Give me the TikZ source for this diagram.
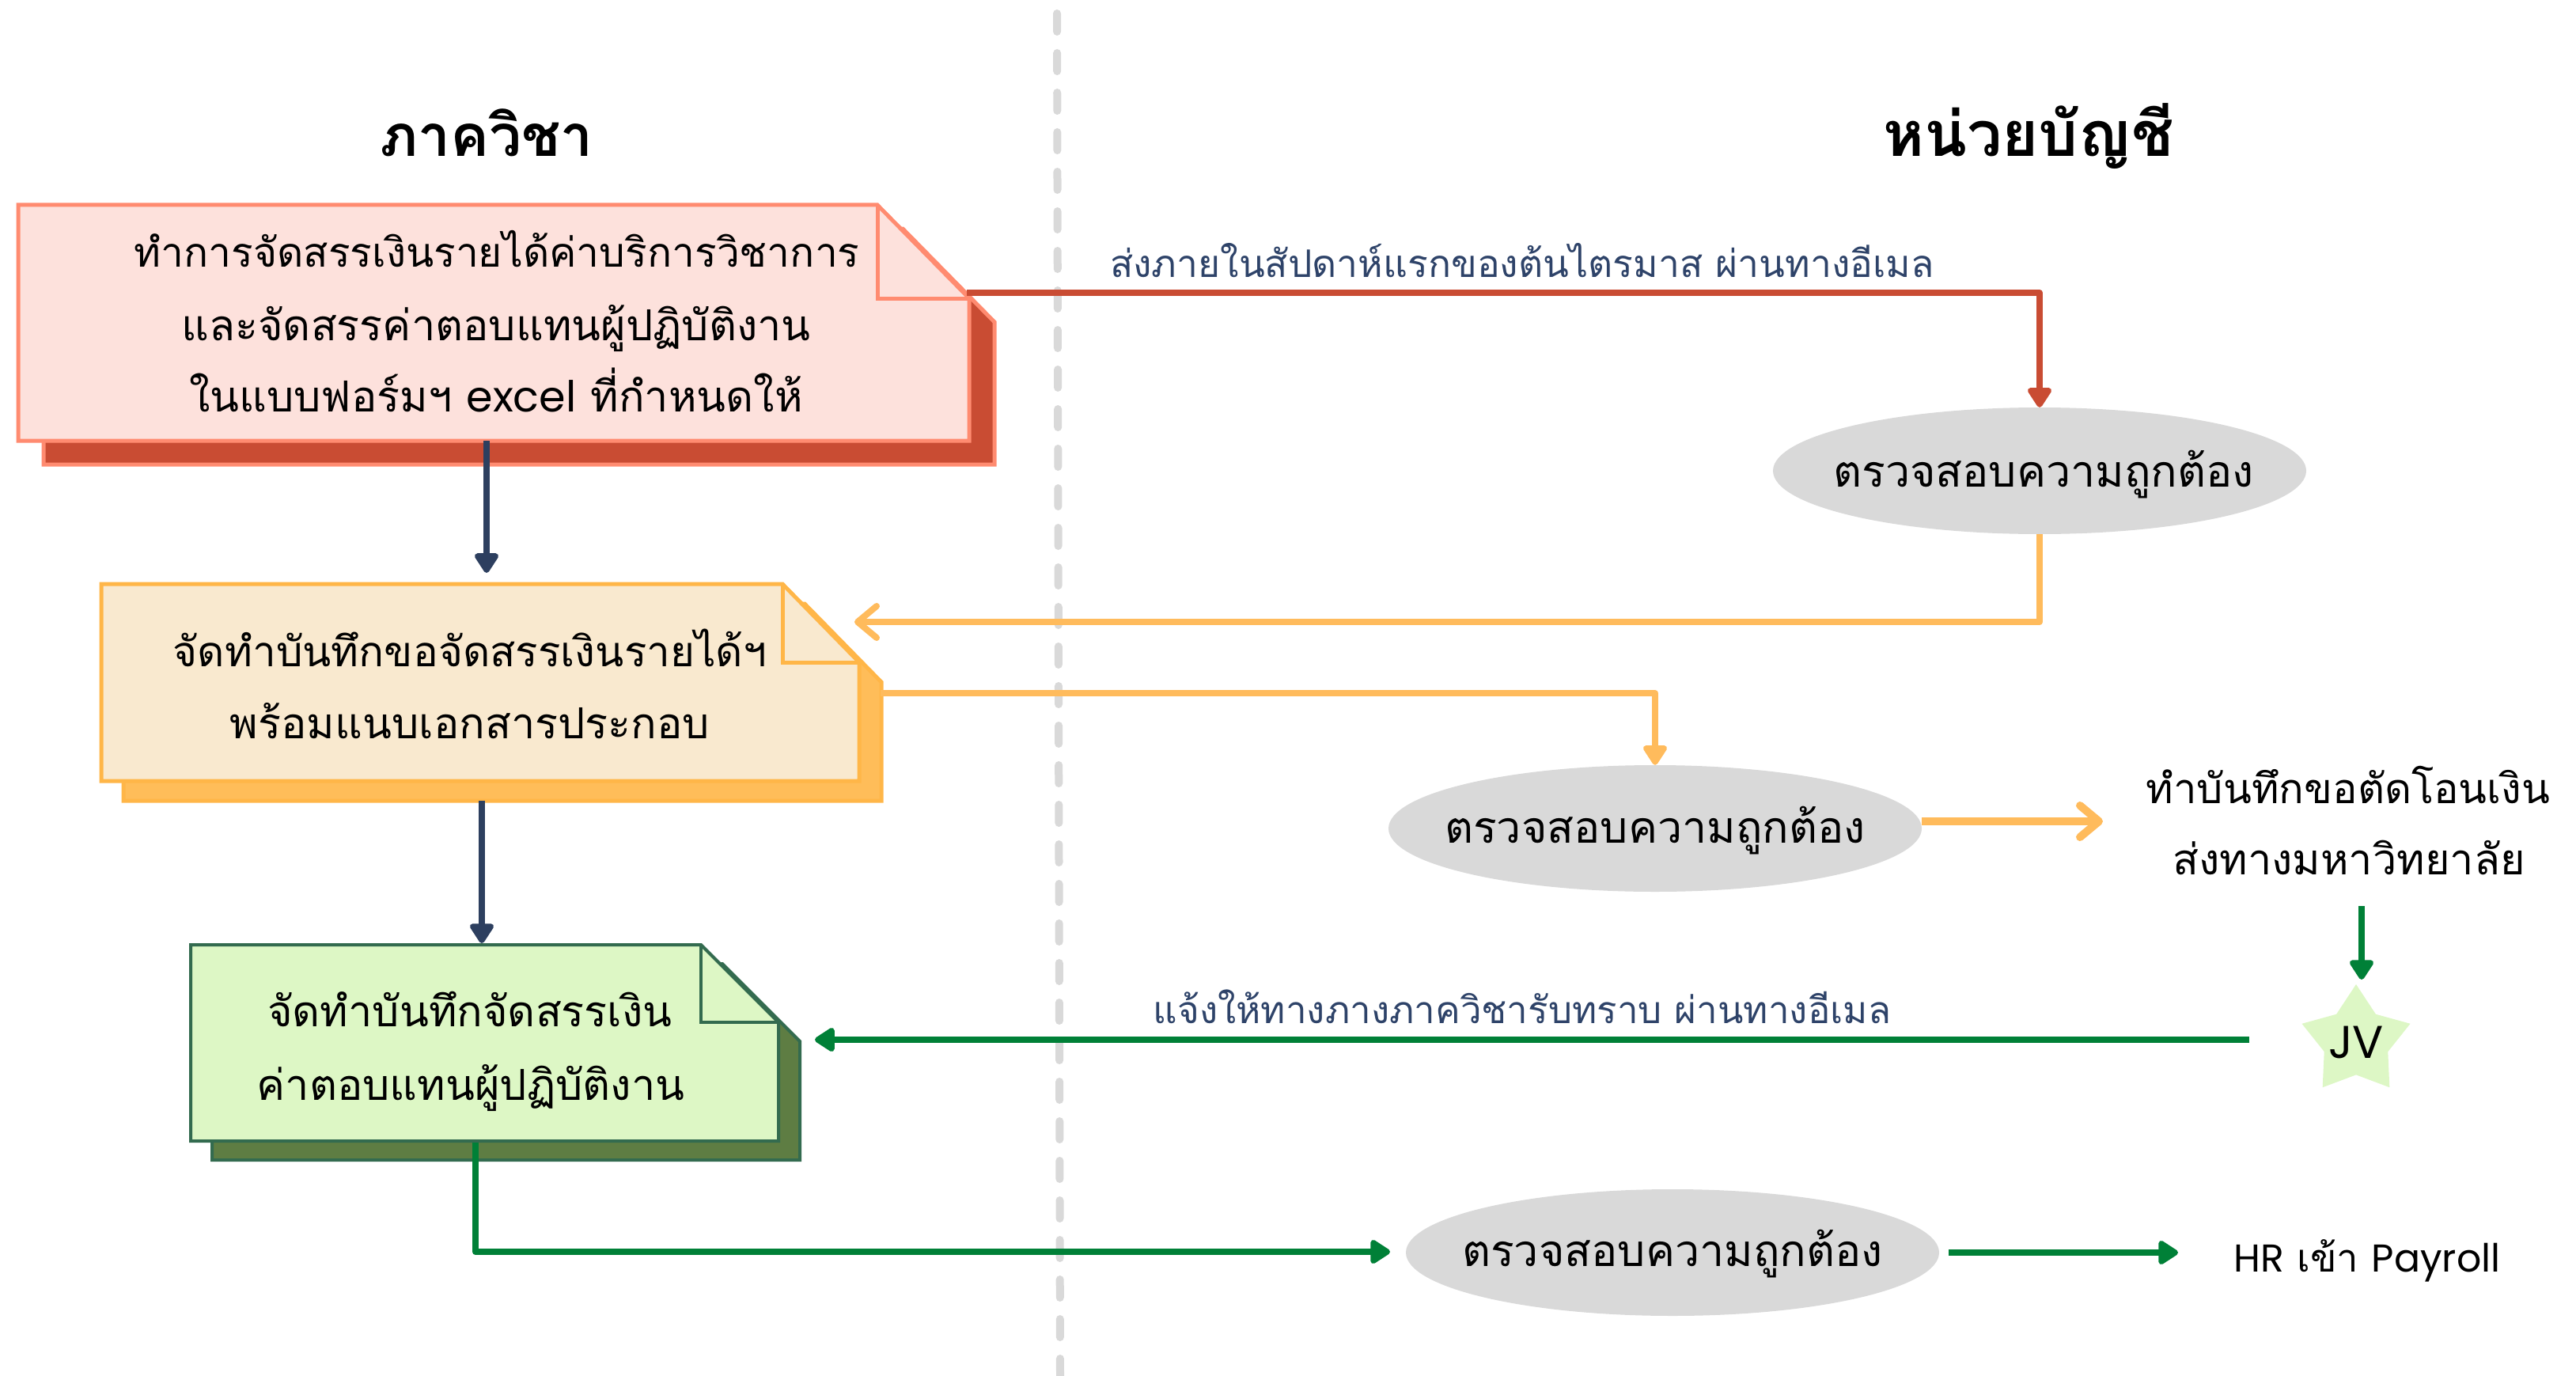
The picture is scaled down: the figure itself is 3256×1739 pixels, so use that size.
\documentclass[tikz,border=0pt]{standalone}
\usepackage{fontspec}
\usetikzlibrary{shapes.geometric,arrows.meta}
\newfontfamily\thai[Script=Thai]{Loma}
\newfontfamily\lat{Poppins}
\definecolor{redfill}{HTML}{FDE1DC}
\definecolor{redline}{HTML}{FF8B70}
\definecolor{redshadow}{HTML}{C94C33}
\definecolor{orfill}{HTML}{F9E9CF}
\definecolor{orline}{HTML}{FFB648}
\definecolor{orshadow}{HTML}{FFBD59}
\definecolor{grfill}{HTML}{DDF7C5}
\definecolor{grline}{HTML}{336B4F}
\definecolor{grshadow}{HTML}{5E7D43}
\definecolor{ellgray}{HTML}{D9D9D9}
\definecolor{cred}{HTML}{C94C33}
\definecolor{corange}{HTML}{FFBB5C}
\definecolor{cgreen}{HTML}{008037}
\definecolor{cnavy}{HTML}{2D3F5F}
\definecolor{lblnavy}{HTML}{2E4369}
\begin{document}
\begin{tikzpicture}[x=1pt,y=-1pt,
  boxtxt/.style={font=\thai\fontsize{54}{60}\selectfont, anchor=base, inner sep=0},
  chktxt/.style={font=\thai\fontsize{55.5}{60}\selectfont, anchor=base, inner sep=0},
  lbl/.style={font=\thai\fontsize{48}{52}\selectfont, text=lblnavy, anchor=base, inner sep=0},
  ttl/.style={font=\thai\bfseries\fontsize{73}{80}\selectfont, anchor=base, inner sep=0},
  chk/.style={ellipse, fill=ellgray, minimum width=674, minimum height=160, inner sep=0},
  conn/.style={line width=8, line join=round},
  tri/.style={-{Triangle[length=28,width=34,round]}},
  barb/.style={-{Straight Barb[length=24,width=40,round]}},
  dashline/.style={line width=10, draw=ellgray, line cap=round, dash pattern=on 23 off 27},
]
\useasboundingbox (0,0) rectangle (3256,1739);

% divider
\coordinate (dtop) at (1336,17);
\coordinate (dbot) at (1340,1739);
\draw[dashline] (dtop) -- (dbot);

% titles
\node[ttl] (t1) at (615,198) {ภาควิชา};
\node[ttl, font=\thai\bfseries\fontsize{79}{80}\selectfont] (t2) at (2564,198) {หน่วยบัญชี};

% red note
\fill[redshadow, draw=redline, line width=5] (55,289) -- (1141,289) -- (1257,407) -- (1257,587) -- (55,587) -- cycle;
\fill[redfill, draw=redline, line width=5] (23,259) -- (1109,259) -- (1225,377) -- (1225,557) -- (23,557) -- cycle;
\draw[redline, line width=5] (1109,259) -- (1109,377) -- (1225,377);
\node[boxtxt, font=\thai\fontsize{51.5}{60}\selectfont] (r1) at (628,337) {ทำการจัดสรรเงินรายได้ค่าบริการวิชาการ};
\node[boxtxt] (r2) at (627,430) {และจัดสรรค่าตอบแทนผู้ปฏิบัติงาน};
\node[boxtxt] (r3) at (627,520) {ในแบบฟอร์มฯ {\lat excel} ที่กำหนดให้};
\coordinate (redbot) at (615,557);
\coordinate (redout) at (1222,370);

% orange note
\fill[orshadow, draw=orline, line width=5] (156,763) -- (1017,763) -- (1114,862) -- (1114,1012) -- (156,1012) -- cycle;
\fill[orfill, draw=orline, line width=5] (128,738) -- (989,738) -- (1086,837) -- (1086,987) -- (128,987) -- cycle;
\draw[orline, line width=5] (989,738) -- (989,837) -- (1086,837);
\node[boxtxt, font=\thai\fontsize{53}{60}\selectfont] (o1) at (594,842) {จัดทำบันทึกขอจัดสรรเงินรายได้ฯ};
\node[boxtxt] (o2) at (594,933) {พร้อมแนบเอกสารประกอบ};
\coordinate (ortop) at (615,724);
\coordinate (orbot) at (609,1012);
\coordinate (orin) at (1080,786);
\coordinate (orout) at (1113,876);

% green note
\fill[grshadow, draw=grline, line width=4] (268,1218) -- (913,1218) -- (1011,1316) -- (1011,1466) -- (268,1466) -- cycle;
\fill[grfill, draw=grline, line width=4] (241,1194) -- (886,1194) -- (984,1292) -- (984,1442) -- (241,1442) -- cycle;
\draw[grline, line width=4] (886,1194) -- (886,1292) -- (984,1292);
\node[boxtxt] (g1) at (594,1297) {จัดทำบันทึกจัดสรรเงิน};
\node[boxtxt] (g2) at (595,1390) {ค่าตอบแทนผู้ปฏิบัติงาน};
\coordinate (grtop) at (609,1192);
\coordinate (grbot) at (601,1444);
\coordinate (grin) at (1030,1314);

% ellipses
\node[chk] (e1) at (2578,595) {};
\node[chktxt] (e1t) at (2583,615) {ตรวจสอบความถูกต้อง};
\node[chk] (e2) at (2092,1047) {};
\node[chktxt] (e2t) at (2092,1065) {ตรวจสอบความถูกต้อง};
\node[chk] (e3) at (2114,1583) {};
\node[chktxt] (e3t) at (2114,1600) {ตรวจสอบความถูกต้อง};

% right texts
\node[boxtxt, font=\thai\fontsize{52.5}{60}\selectfont] (x1) at (2968,1015) {ทำบันทึกขอตัดโอนเงิน};
\node[boxtxt] (x2) at (2969,1105) {ส่งทางมหาวิทยาลัย};
\node[boxtxt, font=\thai\fontsize{49}{60}\selectfont] (hr) at (2992,1607) {{\lat HR} เข้า {\lat Payroll}};
\node[star, star points=5, star point ratio=1.7, minimum size=144, inner sep=0,
  fill=grfill] (jv) at (2978,1316) {};
\node[anchor=base, inner sep=0, font=\lat\fontsize{58}{60}\selectfont] (jvt) at (2978,1337) {JV};

% labels
\node[lbl] (l1) at (1924,350) {ส่งภายในสัปดาห์แรกของต้นไตรมาส ผ่านทางอีเมล};
\node[lbl, font=\thai\fontsize{47.5}{52}\selectfont] (l2) at (1924,1293) {แจ้งให้ทางภางภาควิชารับทราบ ผ่านทางอีเมล};

% connectors
\draw[conn, cnavy, tri] (redbot) -- (ortop);
\draw[conn, cnavy, tri] (orbot) -- (grtop);
\draw[conn, cred, tri] (redout) -| (e1.north);
\draw[conn, corange, barb] (e1.south) |- (orin);
\draw[conn, corange, tri] (orout) -| (e2.north);
\coordinate (e2r) at (2429,1038);
\coordinate (x1l) at (2658,1038);
\draw[line width=10, corange, barb] (e2r) -- (x1l);
\coordinate (x2b) at (2985,1145);
\coordinate (jvtop) at (2985,1238);
\draw[conn, cgreen, tri] (x2b) -- (jvtop);
\coordinate (jvl) at (2843,1314);
\draw[conn, cgreen, tri] (jvl) -- (grin);
\coordinate (e3l) at (1757,1582);
\draw[conn, cgreen, tri] (grbot) |- (e3l);
\coordinate (e3r) at (2463,1583);
\coordinate (hrl) at (2753,1583);
\draw[conn, cgreen, tri] (e3r) -- (hrl);
\end{tikzpicture}
\end{document}
